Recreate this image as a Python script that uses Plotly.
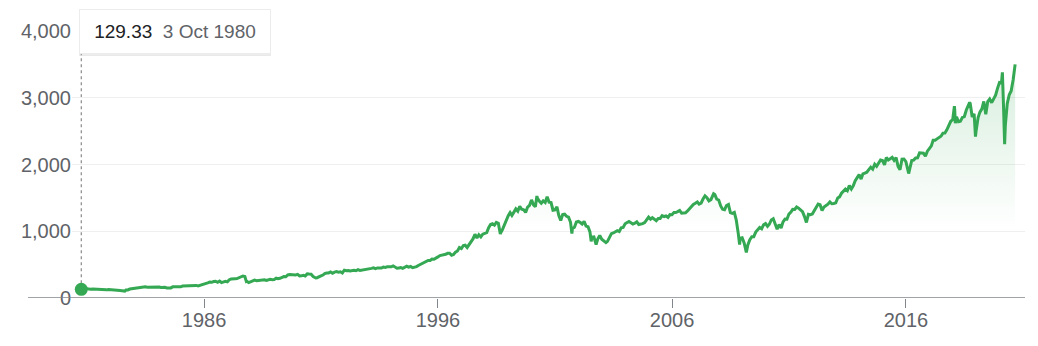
import pandas as pd
import plotly.graph_objects as go

# ---------------- data ----------------
first_date = "1980-10-03"
first_value = 129.33

# month-end closes, Oct 1980 .. Aug 2020
monthly_close = [
    127.47, 140.52, 135.76,
    129.55, 131.27, 136.00, 132.81, 132.59, 131.21, 130.92, 122.79, 116.18, 121.89, 126.35, 122.55,
    120.40, 113.11, 111.96, 116.44, 111.88, 109.61, 107.09, 119.51, 120.42, 133.71, 138.54, 140.64,
    145.30, 148.06, 152.96, 164.42, 162.39, 168.11, 162.56, 164.40, 166.07, 163.55, 166.40, 164.93,
    163.41, 157.06, 159.18, 160.05, 150.55, 153.18, 150.66, 166.68, 166.10, 166.09, 163.58, 167.24,
    179.63, 181.18, 180.66, 179.83, 189.55, 191.85, 190.92, 188.63, 182.08, 189.82, 202.17, 211.28,
    211.78, 226.92, 238.90, 235.52, 247.35, 250.84, 236.12, 252.93, 231.32, 243.98, 249.22, 242.17,
    274.08, 284.20, 291.70, 288.36, 290.10, 304.00, 318.66, 329.80, 321.83, 251.79, 230.30, 247.08,
    257.07, 267.82, 258.89, 261.33, 262.16, 273.50, 272.02, 261.52, 271.91, 278.97, 273.70, 277.72,
    297.47, 288.86, 294.87, 309.64, 320.52, 317.98, 346.08, 351.45, 349.15, 340.36, 345.99, 353.40,
    329.08, 331.89, 339.94, 330.80, 361.23, 358.02, 356.15, 322.56, 306.05, 304.00, 322.22, 330.22,
    343.93, 367.07, 375.22, 375.35, 389.83, 371.16, 387.81, 395.43, 387.86, 392.46, 375.22, 417.09,
    408.79, 412.70, 403.69, 414.95, 415.35, 408.14, 424.21, 414.03, 417.80, 418.68, 431.35, 435.71,
    438.78, 443.38, 451.67, 440.19, 450.19, 450.53, 448.13, 463.56, 458.93, 467.83, 461.79, 466.45,
    481.61, 467.14, 445.77, 450.91, 456.50, 444.27, 458.26, 475.49, 462.69, 472.35, 453.69, 459.27,
    470.42, 487.39, 500.71, 514.71, 533.40, 544.75, 562.06, 561.88, 584.41, 581.50, 605.37, 615.93,
    636.02, 640.43, 645.50, 654.17, 669.12, 670.63, 639.95, 651.99, 687.33, 705.27, 757.02, 740.74,
    786.16, 790.82, 757.12, 801.34, 848.28, 885.14, 954.31, 899.47, 947.28, 914.62, 955.40, 970.43,
    980.28, 1049.34, 1101.75, 1111.75, 1090.82, 1133.84, 1120.67, 957.28, 1017.01, 1098.67, 1163.63, 1229.23,
    1279.64, 1238.33, 1286.37, 1335.18, 1301.84, 1372.71, 1328.72, 1320.41, 1282.71, 1362.93, 1388.91, 1469.25,
    1394.46, 1366.42, 1498.58, 1452.43, 1420.60, 1454.60, 1430.83, 1517.68, 1436.51, 1429.40, 1314.95, 1320.28,
    1366.01, 1239.94, 1160.33, 1249.46, 1255.82, 1224.42, 1211.23, 1133.58, 1040.94, 1059.78, 1139.45, 1148.08,
    1130.20, 1106.73, 1147.39, 1076.92, 1067.14, 989.82, 911.62, 916.07, 815.28, 885.76, 936.31, 879.82,
    855.70, 841.15, 848.18, 916.92, 963.59, 974.50, 990.31, 1008.01, 995.97, 1050.71, 1058.20, 1111.92,
    1131.13, 1144.94, 1126.21, 1107.30, 1120.68, 1140.84, 1101.72, 1104.24, 1114.58, 1130.20, 1173.82, 1211.92,
    1181.27, 1203.60, 1180.59, 1156.85, 1191.50, 1191.33, 1234.18, 1220.33, 1228.81, 1207.01, 1249.48, 1248.29,
    1280.08, 1280.66, 1294.83, 1310.61, 1270.09, 1270.20, 1276.66, 1303.82, 1335.85, 1377.94, 1400.63, 1418.30,
    1438.24, 1406.82, 1420.86, 1482.37, 1530.62, 1503.35, 1455.27, 1473.99, 1526.75, 1549.38, 1481.14, 1468.36,
    1378.55, 1330.63, 1322.70, 1385.59, 1400.38, 1280.00, 1267.38, 1282.83, 1166.36, 968.75, 896.24, 903.25,
    825.88, 735.09, 797.87, 872.81, 919.14, 919.32, 987.48, 1020.62, 1057.08, 1036.19, 1095.63, 1115.10,
    1073.87, 1104.49, 1169.43, 1186.69, 1089.41, 1030.71, 1101.60, 1049.33, 1141.20, 1183.26, 1180.55, 1257.64,
    1286.12, 1327.22, 1325.83, 1363.61, 1345.20, 1320.64, 1292.28, 1218.89, 1131.42, 1253.30, 1246.96, 1257.60,
    1312.41, 1365.68, 1408.47, 1397.91, 1310.33, 1362.16, 1379.32, 1406.58, 1440.67, 1412.16, 1416.18, 1426.19,
    1498.11, 1514.68, 1569.19, 1597.57, 1630.74, 1606.28, 1685.73, 1632.97, 1681.55, 1756.54, 1805.81, 1848.36,
    1782.59, 1859.45, 1872.34, 1883.95, 1923.57, 1960.23, 1930.67, 2003.37, 1972.29, 2018.05, 2067.56, 2058.90,
    1994.99, 2104.50, 2067.89, 2085.51, 2107.39, 2063.11, 2103.84, 1972.18, 1920.03, 2079.36, 2080.41, 2043.94,
    1940.24, 1932.23, 2059.74, 2065.30, 2096.95, 2098.86, 2173.60, 2170.95, 2168.27, 2126.15, 2198.81, 2238.83,
    2278.87, 2363.64, 2362.72, 2384.20, 2411.80, 2423.41, 2470.30, 2471.65, 2519.36, 2575.26, 2647.58, 2673.61,
    2823.81, 2713.83, 2640.87, 2648.05, 2705.27, 2718.37, 2816.29, 2901.52, 2913.98, 2711.74, 2760.17, 2506.85,
    2704.10, 2784.49, 2834.40, 2945.83, 2752.06, 2941.76, 2980.38, 2926.46, 2976.74, 3037.56, 3140.98, 3230.78,
    3225.52, 2954.22, 2584.59, 2912.43, 3044.31, 3100.29, 3271.12, 3500.31,
]
month_dates = pd.date_range("1980-10-31", periods=len(monthly_close), freq="ME")

# weekly closes at the visible swing highs / lows
swing_dates = [
    "1982-08-13", "1987-08-21", "1987-10-23", "1990-10-12", "1998-09-04",
    "2000-03-24", "2001-09-21", "2002-07-19", "2002-10-04", "2003-03-07",
    "2007-10-12", "2008-11-21", "2009-03-06", "2016-02-12", "2018-01-26",
    "2018-02-09", "2018-09-21", "2018-12-21", "2020-02-14", "2020-03-20",
]
swing_values = [
    103.85, 335.90, 248.22, 300.03, 973.89,
    1527.46, 965.80, 847.75, 800.58, 828.89,
    1561.80, 800.03, 683.38, 1864.78, 2872.87,
    2619.55, 2929.67, 2416.62, 3380.16, 2304.92,
]

x_tick_years = ["1986", "1996", "2006", "2016"]
y_tick_values = [0, 1000, 2000, 3000, 4000]

# ---------------- build series ----------------
df = pd.DataFrame({
    "date": [pd.Timestamp(first_date)] + list(month_dates) + [pd.Timestamp(d) for d in swing_dates],
    "value": [first_value] + monthly_close + swing_values,
}).sort_values("date")

GREEN = "#34a853"
TEXT = "#5f6368"
AXIS = "#80868b"
FONT = "Liberation Sans, Arial, sans-serif"

fig = go.Figure()
fig.add_trace(go.Scatter(
    x=df["date"], y=df["value"], mode="lines",
    line=dict(color=GREEN, width=3),
    fill="tozeroy",
    fillgradient=dict(
        type="vertical", start=1000, stop=3600,
        colorscale=[[0, "rgba(52,168,83,0)"], [1, "rgba(52,168,83,0.2)"]],
    ),
    hoverinfo="skip",
))
fig.add_trace(go.Scatter(
    x=[pd.Timestamp(first_date)], y=[first_value], mode="markers",
    marker=dict(size=13, color=GREEN), hoverinfo="skip",
))

label_date = pd.Timestamp(first_date)
tooltip = (f"<span style='color:#202124'>{first_value:.2f}</span>\u00a0\u00a0"
           f"<span style='color:{TEXT}'>{label_date.day} {label_date.strftime('%b %Y')}</span>")

fig.update_layout(
    width=1038, height=346,
    margin=dict(l=72, r=13, t=31, b=48),
    paper_bgcolor="white", plot_bgcolor="white",
    showlegend=False,
    font=dict(family=FONT, size=20, color=TEXT),
    xaxis=dict(
        type="date",
        range=["1980-05-11", "2021-02-01"],
        tickvals=[pd.Timestamp(f"{y}-01-01") for y in x_tick_years],
        ticktext=x_tick_years,
        ticks="outside", ticklen=9, tickwidth=1, tickcolor=AXIS,
        ticklabelstandoff=-5,
        showgrid=False, zeroline=False, showline=False,
        tickfont=dict(size=20, color=TEXT),
    ),
    yaxis=dict(
        range=[0, 4000],
        tickvals=y_tick_values,
        tickformat=",",
        showgrid=True, gridcolor="#efefef", gridwidth=1,
        zeroline=False, showline=False, ticks="",
        tickfont=dict(size=20, color=TEXT),
    ),
    shapes=[
        dict(type="line", xref="paper", x0=-0.0462, x1=1, yref="y", y0=0, y1=0,
             line=dict(color=AXIS, width=1.5), layer="above"),
        dict(type="line", xref="x", x0=label_date, x1=label_date,
             yref="y", ysizemode="pixel", yanchor=first_value, y0=0, y1=235,
             line=dict(color="#8a8a8a", width=1.2, dash="3px,3px"), layer="below"),
    ],
    annotations=[
        dict(xref="x", x=label_date, xanchor="left", xshift=-2,
             yref="paper", y=1.0824, yanchor="top", yshift=-2,
             text="\u00a0", showarrow=False, width=180, height=33, borderpad=5,
             borderwidth=1, bordercolor="rgba(0,0,0,0.05)", bgcolor="rgba(0,0,0,0.07)"),
        dict(xref="x", x=label_date, xanchor="left", xshift=-2,
             yref="paper", y=1.0824, yanchor="top",
             text=tooltip, showarrow=False, width=180, height=33, borderpad=5,
             borderwidth=1, bordercolor="#ececec", bgcolor="white",
             font=dict(family=FONT, size=19, color="#202124"), align="center", valign="middle"),
    ],
)

fig.write_html("out.html")
